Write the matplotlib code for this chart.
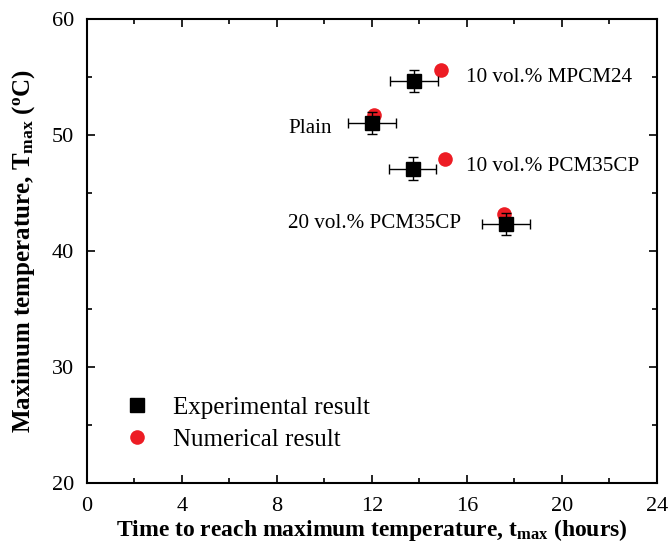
import matplotlib
matplotlib.use("Agg")
import matplotlib.pyplot as plt
from matplotlib.ticker import MultipleLocator
from matplotlib.lines import Line2D

plt.rcParams['font.family'] = ['Liberation Serif', 'DejaVu Serif']
plt.rcParams['mathtext.fontset'] = 'custom'
plt.rcParams['mathtext.rm'] = 'Liberation Serif'
plt.rcParams['mathtext.bf'] = 'Liberation Serif:bold'
plt.rcParams['mathtext.it'] = 'Liberation Serif:italic'

samples = ["10 vol.% MPCM24", "Plain", "10 vol.% PCM35CP", "20 vol.% PCM35CP"]
exp_t = [13.77, 12.0, 13.71, 17.64]
exp_T = [54.65, 51.0, 47.1, 42.3]
exp_t_err = [1.0, 1.0, 1.0, 1.0]
exp_T_err = [0.95, 0.95, 1.0, 0.95]
num_t = [14.9, 12.1, 15.07, 17.54]
num_T = [55.6, 51.7, 47.95, 43.2]
label_xy = [(15.95, 55.0), (8.5, 50.6), (15.95, 47.25), (8.45, 42.4)]

fig = plt.figure(figsize=(6.68, 5.51), dpi=100)
ax = fig.add_axes([0.130, 0.1234, 0.8535, 0.8421])

ax.plot(num_t, num_T, 'o', color='#ed1c24', markersize=10.5, zorder=3,
        markeredgewidth=0)
ax.errorbar(exp_t, exp_T, xerr=exp_t_err, yerr=exp_T_err, fmt='s', color='black',
            markersize=10.5, ecolor='black', elinewidth=1.0, capsize=3.5,
            capthick=1.0, zorder=4)

for name, (lx, ly) in zip(samples, label_xy):
    ax.text(lx, ly, name, fontsize=15.2, va='center', ha='left')

ax.set_xlim(0, 24)
ax.set_ylim(20, 60)
ax.xaxis.set_major_locator(MultipleLocator(4))
ax.xaxis.set_minor_locator(MultipleLocator(2))
ax.yaxis.set_major_locator(MultipleLocator(10))
ax.yaxis.set_minor_locator(MultipleLocator(5))
ax.tick_params(which='both', direction='in', top=True, right=True, labelsize=16, width=1.2)
ax.tick_params(which='major', length=6)
ax.tick_params(which='minor', length=3.5)
ax.tick_params(axis='x', which='major', pad=10)
ax.tick_params(axis='y', which='major', pad=9)
for s in ax.spines.values():
    s.set_linewidth(1.5)

ax.set_xlabel(r"Time to reach maximum temperature, t$_{\mathbf{max}}$ (hours)",
              fontsize=17, fontweight='bold', labelpad=1)
ax.set_ylabel(r"Maximum temperature, T$_{\mathbf{max}}$ ($^{\mathbf{o}}$C)",
              fontsize=18, fontweight='bold', labelpad=11)

handles = [Line2D([], [], marker='s', color='black', linestyle='none', markersize=9.5),
           Line2D([], [], marker='o', color='#ed1c24', linestyle='none', markersize=10.5,
                  markeredgewidth=0)]
ax.legend(handles, ['Experimental result', 'Numerical result'], loc='center left',
          bbox_to_anchor=(0.004, 0.128), frameon=False, fontsize=18, handletextpad=0.44,
          labelspacing=0.4, borderpad=0.4, handlelength=2.0)

fig.savefig('out.png', dpi=100)
